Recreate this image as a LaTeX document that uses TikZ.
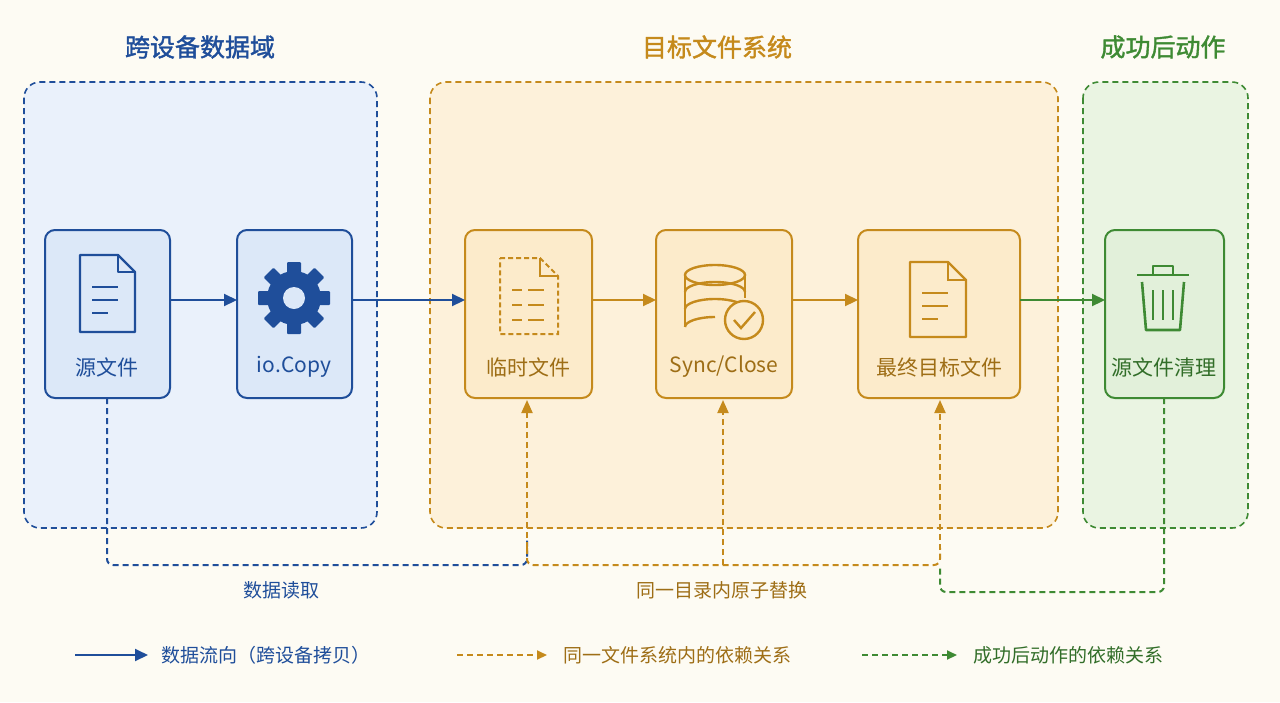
\documentclass[tikz,border=0pt]{standalone}
\usepackage{fontspec}
\setmainfont{Noto Sans CJK SC}[AutoFakeBold=1.5]
\usetikzlibrary{arrows.meta,calc}
\definecolor{bl}{HTML}{1F4E9A}
\definecolor{blf}{HTML}{EAF1FB}
\definecolor{blb}{HTML}{DCE8F8}
\definecolor{or}{HTML}{C58A1C}
\definecolor{orf}{HTML}{FDF1DA}
\definecolor{orb}{HTML}{FCEBCB}
\definecolor{gr}{HTML}{3E8A33}
\definecolor{grf}{HTML}{EAF4E2}
\definecolor{grb}{HTML}{E2F0DA}
\definecolor{bg}{HTML}{FDFBF3}
\begin{document}
\begin{tikzpicture}[x=1pt,y=-1pt,
 region/.style={draw=#1,line width=1.6pt,rounded corners=16pt,dash pattern=on 6pt off 4pt},
 box/.style={draw=#1,line width=2pt,rounded corners=10pt},
 lab/.style={font=\fontsize{21}{23}\selectfont},
 ttl/.style={font=\bfseries\fontsize{25}{28}\selectfont},
 flow/.style={line width=2.2pt,-{Triangle[length=13pt,width=12pt]}},
 dep/.style={line width=2pt,dash pattern=on 6pt off 4pt}]
\useasboundingbox (0,0) rectangle (1280,702);
\fill[bg] (0,0) rectangle (1280,702);
% regions
\draw[region=bl,fill=blf] (24,82) rectangle (377,528);
\draw[region=or,fill=orf] (430,82) rectangle (1058,528);
\draw[region=gr,fill=grf] (1083,82) rectangle (1248,528);
\node[ttl,text=bl] (t1) at (200,47) {跨设备数据域};
\node[ttl,text=or] (t2) at (717,47) {目标文件系统};
\node[ttl,text=gr] (t3) at (1163,47) {成功后动作};
% boxes
\draw[box=bl,fill=blb] (45,230) rectangle (170,398);
\draw[box=bl,fill=blb] (237,230) rectangle (352,398);
\draw[box=or,fill=orb] (465,230) rectangle (592,398);
\draw[box=or,fill=orb] (656,230) rectangle (792,398);
\draw[box=or,fill=orb] (858,230) rectangle (1020,398);
\draw[box=gr,fill=grb] (1105,230) rectangle (1224,398);
\node[lab,text=bl] (n1) at (107,367) {源文件};
\node[lab,text=bl] (n2) at (294,367) {io.Copy};
\node[lab,text=or!80!black] (n3) at (528,367) {临时文件};
\node[lab,text=or!80!black] (n4) at (724,367) {Sync/Close};
\node[lab,text=or!80!black] (n5) at (939,367) {最终目标文件};
\node[lab,text=gr!80!black] (n6) at (1164,367) {源文件清理};
% icons
\draw[bl,line width=2.4pt,line join=round] (80,255)--(118,255)--(135,272)--(135,332)--(80,332)--cycle;
\draw[bl,line width=2.4pt,line join=round] (118,255)--(118,272)--(135,272);
\foreach \yy/\l in {287/36,300/36,313/26}{\draw[bl,line width=2.4pt] (92,\yy)--++(\l-10,0);}
\begin{scope}[shift={(294,298)}]
\fill[bl] (0,0) circle (27);
\foreach \a in {0,45,...,315}{\fill[bl,rotate=\a,rounded corners=1pt] (-7,-36) rectangle (7,-20);}
\fill[blb] (0,0) circle (11);
\end{scope}
\draw[or,line width=2pt,dash pattern=on 5pt off 3pt] (500,258)--(540,258)--(558,276)--(558,334)--(500,334)--cycle;
\draw[or,line width=2pt] (540,258)--(540,276)--(558,276);
\foreach \yy in {290,305,320}{\draw[or,line width=2pt] (512,\yy)--++(10,0) (528,\yy)--++(16,0);}
\begin{scope}[or,line width=2.4pt]
\draw (715,275) ellipse (30 and 10);
\draw (685,275)--(685,327) (745,275)--(745,298);
\draw (685,292) arc[start angle=180,end angle=0,x radius=30,y radius=-10];
\draw (685,309) arc[start angle=180,end angle=0,x radius=30,y radius=-10];
\draw (685,327) arc[start angle=180,end angle=90,x radius=30,y radius=-10];
\draw[fill=orb] (744,320) circle (19);
\draw (734,320)--(741,328)--(755,312);
\end{scope}
\draw[or,line width=2.4pt,line join=round] (910,262)--(948,262)--(966,280)--(966,337)--(910,337)--cycle;
\draw[or,line width=2.4pt] (948,262)--(948,280)--(966,280);
\foreach \yy/\l in {293/36,306/36,319/26}{\draw[or,line width=2.4pt] (922,\yy)--++(\l-10,0);}
\begin{scope}[gr,line width=2.6pt,line join=round]
\draw (1137,275)--(1189,275);
\draw (1153,275)--(1153,266)--(1173,266)--(1173,275);
\draw (1142,282)--(1146,330)--(1180,330)--(1184,282);
\draw (1153,290)--(1153,320) (1163,290)--(1163,320) (1173,290)--(1173,320);
\end{scope}
% flows
\draw[flow,bl] (170,300)--(237,300);
\draw[flow,bl] (352,300)--(465,300);
\draw[flow,or] (592,300)--(656,300);
\draw[flow,or] (792,300)--(858,300);
\draw[flow,gr] (1020,300)--(1105,300);
% dependencies
\draw[dep,bl,rounded corners=6pt] (107,398)--(107,565)--(527,565)--(527,540);
\draw[dep,or,-{Triangle[length=13pt,width=11pt]}] (527,548)--(527,400);
\draw[dep,or,rounded corners=6pt] (527,548)--(527,565)--(940,565)--(940,548);
\draw[dep,or,-{Triangle[length=13pt,width=11pt]}] (723,565)--(723,400);
\draw[dep,or,-{Triangle[length=13pt,width=11pt]}] (940,560)--(940,400);
\draw[dep,gr,rounded corners=6pt] (1164,398)--(1164,592)--(940,592)--(940,565);
\node[font=\fontsize{19}{21}\selectfont,text=bl] (l1) at (281,590) {数据读取};
\node[font=\fontsize{19}{21}\selectfont,text=or!80!black] (l2) at (722,590) {同一目录内原子替换};
% legend
\draw[flow,bl,line width=2pt] (75,655)--(148,655);
\node[anchor=west,font=\fontsize{19}{21}\selectfont,text=bl] (g1) at (158,655) {数据流向（跨设备拷贝）};
\draw[dep,or,-{Triangle[length=10pt,width=9pt]}] (457,655)--(547,655);
\node[anchor=west,font=\fontsize{19}{21}\selectfont,text=or!80!black] (g2) at (560,655) {同一文件系统内的依赖关系};
\draw[dep,gr,-{Triangle[length=10pt,width=9pt]}] (862,655)--(957,655);
\node[anchor=west,font=\fontsize{19}{21}\selectfont,text=gr!80!black] (g3) at (970,655) {成功后动作的依赖关系};
\end{tikzpicture}
\end{document}
